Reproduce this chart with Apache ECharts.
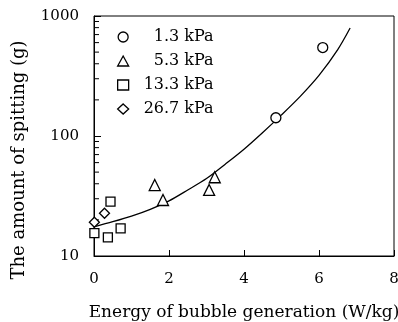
<!DOCTYPE html>
<html><head><meta charset="utf-8">
<script src="https://cdn.jsdelivr.net/npm/echarts@6/dist/echarts.min.js"></script>
<style>html,body{margin:0;padding:0;background:#fff}#c{width:398px;height:322px}</style>
</head><body><div id="c"></div>
<script>
var seriesNames = ['1.3 kPa', '5.3 kPa', '13.3 kPa', '26.7 kPa'];
var p13 = [[4.85, 142], [6.1, 546]];
var p53 = [[1.62, 39.0], [1.84, 29.3], [3.07, 35.5], [3.22, 45.3]];
var p133 = [[0.01, 15.5], [0.37, 14.3], [0.44, 28.4], [0.71, 17.0]];
var p267 = [[0.01, 19.1], [0.28, 22.7]];
var fitX = [0, 0.5, 1, 1.5, 2, 2.5, 3, 3.5, 4, 4.5, 5, 5.5, 6, 6.5, 6.83];
var fitY = [17.5, 19.3, 21.5, 24.5, 28.8, 35.5, 44.2, 58.2, 77.6, 107, 150, 214, 320, 525, 794];
var xTicks = [0, 2, 4, 6, 8];
var yTicks = [10, 100, 1000];
var yMinorTicks = [20, 30, 40, 50, 60, 70, 80, 90, 200, 300, 400, 500, 600, 700, 800, 900];

var font = 'DejaVu Serif';
var chart = echarts.init(document.getElementById('c'));
var fitData = fitX.map(function (x, i) { return [x, fitY[i]]; });
function sc(name, data, symbol, size) {
  return {
    name: name, type: 'scatter', data: data, symbol: symbol, symbolSize: size,
    itemStyle: { color: '#fff', borderColor: '#000', borderWidth: 1.3, opacity: 1 },
    z: 5
  };
}
chart.setOption({
  animation: false,
  backgroundColor: '#fff',
  grid: { left: 94, right: 4, top: 16, bottom: 66, show: true, borderColor: '#000', borderWidth: 1,
    containLabel: false, outerBoundsMode: 'none' },
  legend: {
    orient: 'vertical', left: 112, top: 24, itemGap: 8,
    itemWidth: 11, itemHeight: 10,
    data: [
      { name: seriesNames[0], icon: 'circle' },
      { name: seriesNames[1], icon: 'triangle' },
      { name: seriesNames[2], icon: 'rect' },
      { name: seriesNames[3], icon: 'diamond' }
    ],
    formatter: function (n) { return '{r|' + n + '}'; },
    textStyle: {
      fontFamily: font, fontSize: 16, color: '#000',
      rich: { r: { width: 80, align: 'right', lineHeight: 16, fontFamily: font, fontSize: 16, color: '#000' } }
    },
    itemStyle: { color: '#fff', borderColor: '#000', borderWidth: 1.3 }
  },
  xAxis: {
    type: 'value', min: 0, max: 8, interval: 2,
    name: 'Energy of bubble generation (W/kg)', nameLocation: 'middle', nameGap: 48,
    nameTextStyle: { fontFamily: font, fontSize: 17, color: '#000' },
    axisLine: { lineStyle: { color: '#000', width: 1 } },
    axisTick: { inside: true, length: 6, lineStyle: { color: '#000' } },
    axisLabel: { margin: 16, fontFamily: font, fontSize: 15, color: '#000',
      formatter: function (v) { return xTicks.indexOf(v) >= 0 ? String(v) : ''; } },
    splitLine: { show: false }
  },
  yAxis: {
    type: 'log', logBase: 10, min: 10, max: 1000,
    name: 'The amount of spitting (g)', nameLocation: 'middle', nameGap: 66,
    nameTextStyle: { fontFamily: font, fontSize: 18, color: '#000', padding: [0, 48, 0, 0] },
    axisLine: { lineStyle: { color: '#000', width: 1 } },
    axisTick: { inside: true, length: 7, lineStyle: { color: '#000' } },
    axisLabel: { margin: 15, fontFamily: font, fontSize: 15, color: '#000',
      formatter: function (v) { return yTicks.indexOf(Math.round(v)) >= 0 ? String(Math.round(v)) : ''; } },
    splitLine: { show: false }
  },
  series: [
    {
      name: 'fit', type: 'line', data: fitData, smooth: 0.3, showSymbol: false,
      lineStyle: { color: '#000', width: 1.3 }, z: 3, silent: true
    },
    sc(seriesNames[0], p13, 'circle', 10),
    sc(seriesNames[1], p53, 'triangle', 11),
    sc(seriesNames[2], p133, 'rect', 9),
    sc(seriesNames[3], p267, 'diamond', 10),
    {
      name: 'minor', type: 'custom', silent: true, z: 4,
      data: yMinorTicks.map(function (v) { return [0, v]; }),
      renderItem: function (params, api) {
        var p = api.coord([api.value(0), api.value(1)]);
        return { type: 'line', shape: { x1: p[0], y1: p[1], x2: p[0] + 5, y2: p[1] },
          style: { stroke: '#000', lineWidth: 1 } };
      }
    }
  ]
});
</script></body></html>
